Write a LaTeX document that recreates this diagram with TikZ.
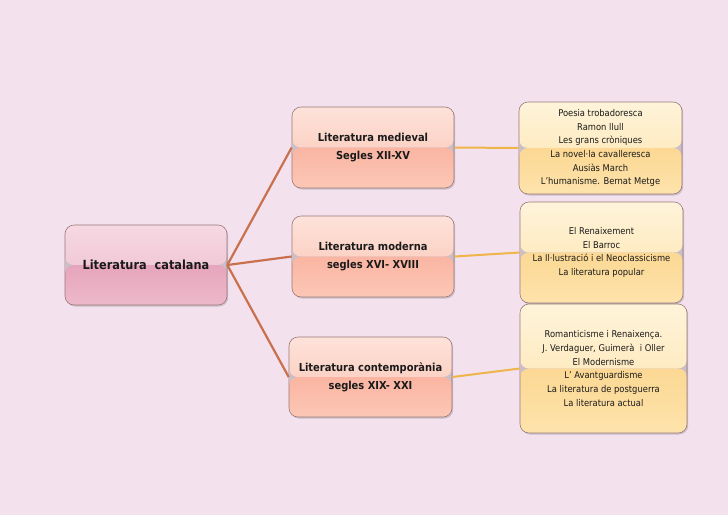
\documentclass[tikz,border=0pt]{standalone}
\usepackage{fontspec}
\setmainfont{DejaVu Sans Condensed}
\usetikzlibrary{shadows}
\definecolor{bg}{HTML}{F3E1EE}
\definecolor{brd}{HTML}{9A7878}
\definecolor{lineA}{HTML}{C8714C}
\definecolor{lineB}{HTML}{EEB54A}
\definecolor{txt}{HTML}{1A1A1A}
\definecolor{rA}{HTML}{F6D8E3}\definecolor{rB}{HTML}{EDBACB}\definecolor{rC}{HTML}{E6A5BC}\definecolor{rD}{HTML}{EDB8CA}
\definecolor{mA}{HTML}{FDE2D9}\definecolor{mB}{HTML}{FBC3B2}\definecolor{mC}{HTML}{FAB5A2}\definecolor{mD}{HTML}{FCC7B6}
\definecolor{lA}{HTML}{FEF4DA}\definecolor{lB}{HTML}{FDE2AA}\definecolor{lC}{HTML}{FCD893}\definecolor{lD}{HTML}{FDE3AC}
\tikzset{
  gloss/.style n args={4}{
    path picture={
      \shade[top color=#1,bottom color=#2] (path picture bounding box.north west) rectangle (path picture bounding box.east);
      \shade[top color=#3,bottom color=#4] (path picture bounding box.west) rectangle (path picture bounding box.south east);
    }},
  box/.style={draw=brd, line width=0.6pt, rounded corners=9pt, align=center, text=txt,
    drop shadow={opacity=0.35, shadow xshift=1.2pt, shadow yshift=-1.5pt}},
  rootbox/.style={box, gloss={rA}{rB}{rC}{rD}, font=\bfseries\fontsize{12.6}{15}\selectfont},
  midbox/.style={box, gloss={mA}{mB}{mC}{mD}, font=\bfseries\fontsize{11}{18}\selectfont},
  leafbox/.style={box, gloss={lA}{lB}{lC}{lD}, font=\fontsize{9.3}{13.7}\selectfont},
  linkA/.style={draw=lineA, line width=2.2pt},
  linkB/.style={draw=lineB, line width=2pt},
}
\begin{document}
\begin{tikzpicture}[x=1pt,y=-1pt]
\fill[bg] (0,0) rectangle (728,515);
\useasboundingbox (0,0) rectangle (728,515);

\node[rootbox, minimum width=162pt, minimum height=80pt] (root) at (146,265) {Literatura\ \ catalana};

\node[midbox, minimum width=162pt, minimum height=81pt] (med) at (373,147.5) {Literatura medieval\\Segles XII-XV};
\node[midbox, minimum width=162pt, minimum height=81pt] (mod) at (373,256.5) {Literatura moderna\\segles XVI- XVIII};
\node[midbox, minimum width=163pt, minimum height=80pt] (con) at (370.5,377) {Literatura contemporània\\segles XIX- XXI};

\node[leafbox, minimum width=163pt, minimum height=92pt] (r1) at (600.5,148) {Poesia trobadoresca\\Ramon llull\\Les grans cròniques\\La novel·la cavalleresca\\Ausiàs March\\L’humanisme. Bernat Metge};
\node[leafbox, minimum width=163pt, minimum height=101pt] (r2) at (601.5,252.5) {El Renaixement\\El Barroc\\La Il·lustració i el Neoclassicisme\\La literatura popular};
\node[leafbox, minimum width=167pt, minimum height=129pt] (r3) at (603.5,368.5) {Romanticisme i Renaixença.\\J. Verdaguer, Guimerà\ \ i Oller\\El Modernisme\\L’ Avantguardisme\\La literatura de postguerra\\La literatura actual};

\draw[linkA] (root.east) -- (med.west);
\draw[linkA] (root.east) -- (mod.west);
\draw[linkA] (root.east) -- (con.west);
\draw[linkB] (med.east) -- (r1.west);
\draw[linkB] (mod.east) -- (r2.west);
\draw[linkB] (con.east) -- (r3.west);
\end{tikzpicture}
\end{document}
